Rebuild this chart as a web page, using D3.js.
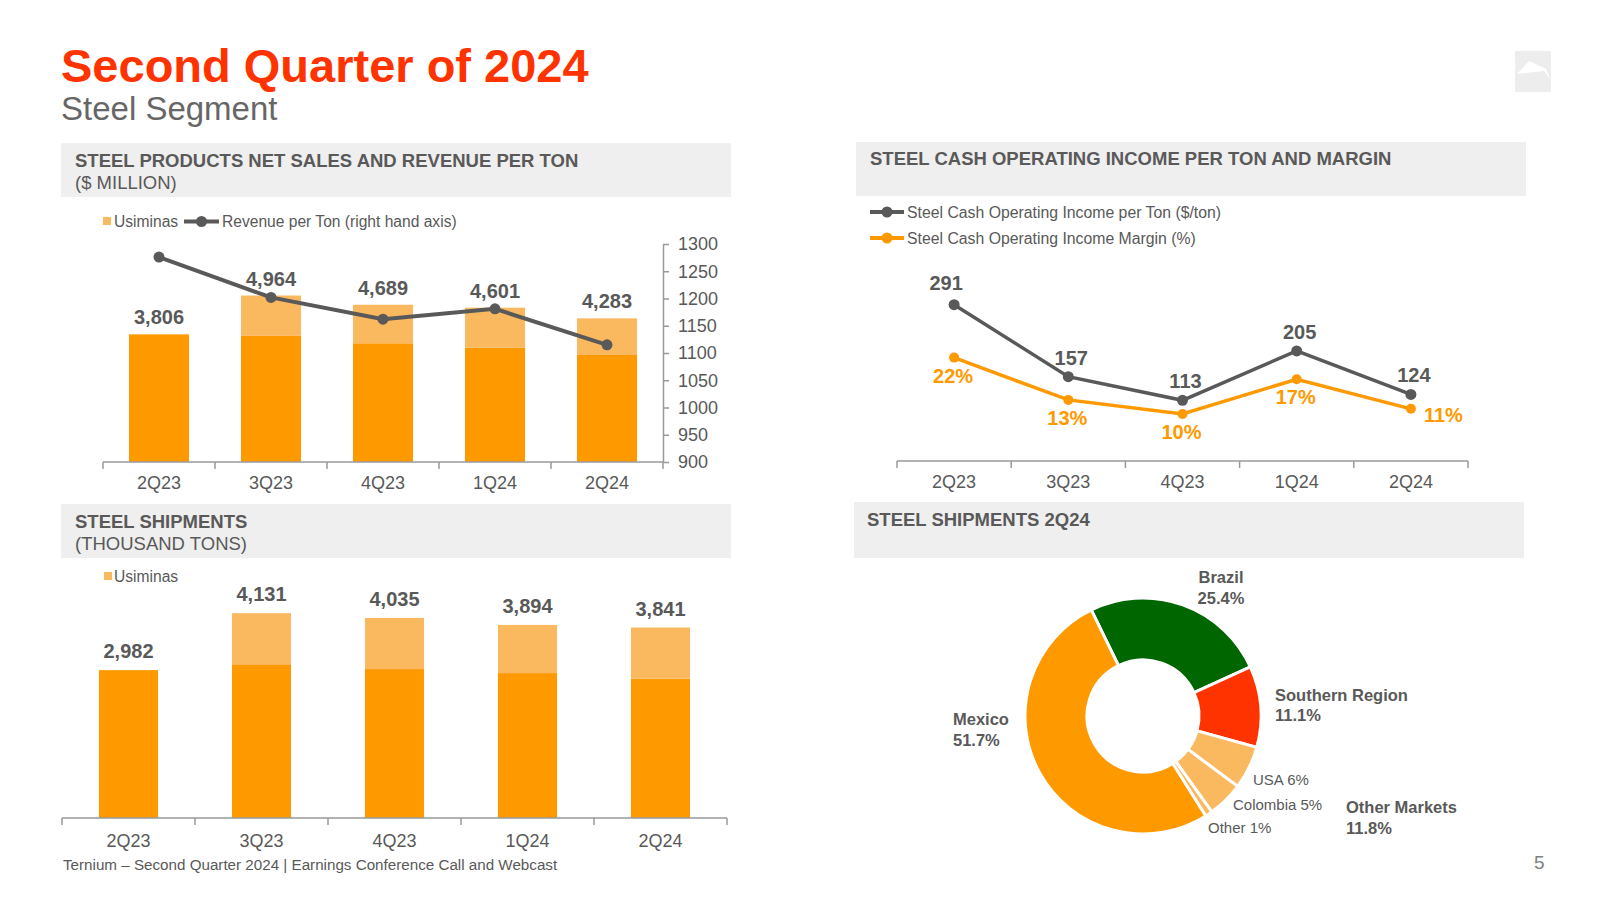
<!DOCTYPE html>
<html><head><meta charset="utf-8">
<script src="https://cdn.jsdelivr.net/npm/d3@7"></script>
<style>
body{margin:0;background:#fff}
svg{display:block}
text{font-family:"Liberation Sans",Arial,sans-serif}
</style>
</head><body>
<svg id="c" width="1600" height="904"></svg>
<script>
// ---------- DATA ----------
const quarters = ["2Q23", "3Q23", "4Q23", "1Q24", "2Q24"];

// Steel products net sales ($ million)
const salesTotal = [3806, 4964, 4689, 4601, 4283];
const salesTernium = [3806, 3760, 3540, 3410, 3190];
const salesUsiminas = [0, 1204, 1149, 1191, 1093];
const revenuePerTon = [1276, 1202, 1162, 1181, 1115];
const rightAxisTicks = [900, 950, 1000, 1050, 1100, 1150, 1200, 1250, 1300];

// Steel cash operating income
const cashIncomePerTon = [291, 157, 113, 205, 124];
const cashIncomeMargin = [22.0, 13.0, 10.0, 17.4, 11.1];

// Steel shipments (thousand tons)
const shipTotal = [2982, 4131, 4035, 3894, 3841];
const shipTernium = [2982, 3100, 3004, 2923, 2808];
const shipUsiminas = [0, 1031, 1031, 971, 1033];

// Steel shipments 2Q24 by region (%)
const regions = ["Brazil", "Southern Region", "USA", "Colombia", "Other", "Mexico"];
const regionShare = [25.4, 11.1, 5.9, 4.9, 1.0, 51.7];

// ---------- STYLE ----------
const DARK = "#FF9900", LIGHT = "#FBB95F", GRAY = "#595959", AXIS = "#9a9a9a";
const HEADER_BG = "#EFEFEF", TITLE = "#FF3300";
const regionColors = ["#006600", "#FF3300", LIGHT, LIGHT, LIGHT, DARK];

const svg = d3.select("#c");

// ---------- Titles ----------
svg.append("text").attr("x", 61).attr("y", 82).attr("fill", TITLE)
  .attr("font-size", 47).attr("font-weight", "bold").text("Second Quarter of 2024");
svg.append("text").attr("x", 61).attr("y", 120).attr("fill", "#666666")
  .attr("font-size", 33).text("Steel Segment");

// logo
svg.append("rect").attr("x", 1515).attr("y", 51).attr("width", 36).attr("height", 41).attr("fill", "#EDEDED");
svg.append("path").attr("d", "M1517,74 L1529,61 L1546,69 L1551,80 L1544,71 Z").attr("fill", "#fff");

// header boxes
function header(x, y, w, h, line1, line2, tx, ty) {
  svg.append("rect").attr("x", x).attr("y", y).attr("width", w).attr("height", h).attr("fill", HEADER_BG);
  svg.append("text").attr("x", tx).attr("y", ty).attr("fill", GRAY).attr("font-size", 18.5)
    .attr("font-weight", "bold").text(line1);
  if (line2) svg.append("text").attr("x", tx).attr("y", ty + 22).attr("fill", GRAY).attr("font-size", 18.5).text(line2);
}
header(61, 143, 670, 54, "STEEL PRODUCTS NET SALES AND REVENUE PER TON", "($ MILLION)", 75, 167);
header(856, 142, 670, 54, "STEEL CASH OPERATING INCOME PER TON AND MARGIN", null, 870, 165);
header(61, 504, 670, 54, "STEEL SHIPMENTS", "(THOUSAND TONS)", 75, 528);
header(854, 502, 670, 56, "STEEL SHIPMENTS 2Q24", null, 867, 526);

// footer
svg.append("text").attr("x", 63).attr("y", 870).attr("fill", GRAY).attr("font-size", 15.2)
  .text("Ternium \u2013 Second Quarter 2024 | Earnings Conference Call and Webcast");
svg.append("text").attr("x", 1534).attr("y", 869).attr("fill", "#808080").attr("font-size", 19).text("5");

// helper: category axis with boundary ticks
function catAxis(scale, y, x0, x1, padding) {
  const g = svg.append("g").attr("transform", `translate(0,${y})`)
    .call(d3.axisBottom(scale).tickSize(0).tickPadding(padding));
  g.select(".domain").remove();
  g.selectAll("text").attr("font-size", 18).attr("fill", GRAY).attr("font-family", '"Liberation Sans",Arial,sans-serif');
  svg.append("line").attr("x1", x0).attr("x2", x1).attr("y1", y).attr("y2", y)
    .attr("stroke", AXIS).attr("stroke-width", 1.5);
  const step = (x1 - x0) / scale.domain().length;
  svg.selectAll(null).data(d3.range(scale.domain().length + 1)).enter().append("line")
    .attr("x1", i => x0 + i * step).attr("x2", i => x0 + i * step)
    .attr("y1", y).attr("y2", y + 7).attr("stroke", AXIS).attr("stroke-width", 1.5);
}

// ---------- Chart 1: net sales + revenue per ton ----------
{
  const x = d3.scaleBand().domain(quarters).range([103, 663]).paddingInner(0.464).paddingOuter(0.232);
  const y = d3.scaleLinear().domain([0, 6500]).range([462, 244]);
  const yr = d3.scaleLinear().domain([900, 1300]).range([462, 244]);
  const bw = x.bandwidth();
  const data = quarters.map((q, i) => ({q, base: salesTernium[i], usi: salesUsiminas[i], total: salesTotal[i], rpt: revenuePerTon[i]}));

  svg.selectAll(null).data(data).enter().append("rect")
    .attr("x", d => x(d.q)).attr("width", bw)
    .attr("y", d => y(d.base)).attr("height", d => y(0) - y(d.base)).attr("fill", DARK);
  svg.selectAll(null).data(data.filter(d => d.usi > 0)).enter().append("rect")
    .attr("x", d => x(d.q)).attr("width", bw)
    .attr("y", d => y(d.base + d.usi)).attr("height", d => y(d.base) - y(d.base + d.usi)).attr("fill", LIGHT);

  catAxis(x, 462, 103, 663, 14);

  const ra = svg.append("g").attr("transform", "translate(663,0)")
    .call(d3.axisRight(yr).tickValues(rightAxisTicks).tickFormat(d3.format("d"))
      .tickSize(6).tickSizeOuter(0).tickPadding(9));
  ra.select(".domain").attr("stroke", AXIS).attr("stroke-width", 1.5);
  ra.selectAll(".tick line").attr("stroke", AXIS).attr("stroke-width", 1.5);
  ra.selectAll("text").attr("font-size", 18).attr("fill", GRAY).attr("font-family", '"Liberation Sans",Arial,sans-serif');

  svg.selectAll(null).data(data).enter().append("text")
    .attr("x", d => x(d.q) + bw / 2).attr("y", d => y(d.total) - 10)
    .attr("text-anchor", "middle").attr("font-size", 20).attr("font-weight", "bold").attr("fill", GRAY)
    .text(d => d3.format(",")(d.total));

  const line = d3.line().x(d => x(d.q) + bw / 2).y(d => yr(d.rpt));
  svg.append("path").datum(data).attr("d", line).attr("fill", "none").attr("stroke", GRAY).attr("stroke-width", 4);
  svg.selectAll(null).data(data).enter().append("circle")
    .attr("cx", d => x(d.q) + bw / 2).attr("cy", d => yr(d.rpt)).attr("r", 5.5).attr("fill", GRAY);

  // legend
  svg.append("rect").attr("x", 103).attr("y", 217).attr("width", 8).attr("height", 8).attr("fill", LIGHT);
  svg.append("text").attr("x", 114).attr("y", 227).attr("font-size", 15.6).attr("fill", GRAY).text("Usiminas");
  svg.append("line").attr("x1", 184).attr("x2", 219).attr("y1", 221.5).attr("y2", 221.5).attr("stroke", GRAY).attr("stroke-width", 4);
  svg.append("circle").attr("cx", 201.5).attr("cy", 221.5).attr("r", 5.5).attr("fill", GRAY);
  svg.append("text").attr("x", 222).attr("y", 227).attr("font-size", 15.6).attr("fill", GRAY).text("Revenue per Ton (right hand axis)");
}

// ---------- Chart 2: cash operating income ----------
{
  const x = d3.scalePoint().domain(quarters).range([897, 1468]).padding(0.5);
  const band = d3.scaleBand().domain(quarters).range([897, 1468]);
  const yg = d3.scaleLinear().domain([0, 350]).range([461, 273]);
  const yp = d3.scaleLinear().domain([0, 40]).range([461, 273]);
  const data = quarters.map((q, i) => ({q, v: cashIncomePerTon[i], m: cashIncomeMargin[i]}));

  catAxis(band, 461, 897, 1468, 14);

  svg.append("path").datum(data).attr("d", d3.line().x(d => x(d.q)).y(d => yp(d.m)))
    .attr("fill", "none").attr("stroke", DARK).attr("stroke-width", 3.5);
  svg.selectAll(null).data(data).enter().append("circle")
    .attr("cx", d => x(d.q)).attr("cy", d => yp(d.m)).attr("r", 5).attr("fill", DARK);
  svg.append("path").datum(data).attr("d", d3.line().x(d => x(d.q)).y(d => yg(d.v)))
    .attr("fill", "none").attr("stroke", GRAY).attr("stroke-width", 3.5);
  svg.selectAll(null).data(data).enter().append("circle")
    .attr("cx", d => x(d.q)).attr("cy", d => yg(d.v)).attr("r", 5.5).attr("fill", GRAY);

  svg.selectAll(null).data(data).enter().append("text")
    .attr("x", (d, i) => x(d.q) + (i === 0 ? -8 : 3)).attr("y", (d, i) => yg(d.v) - (i === 0 ? 15 : 12))
    .attr("text-anchor", "middle").attr("font-size", 20).attr("font-weight", "bold").attr("fill", GRAY)
    .text(d => d.v);
  const last = data.length - 1;
  svg.selectAll(null).data(data).enter().append("text")
    .attr("x", (d, i) => i === last ? x(d.q) + 13 : x(d.q) - 1)
    .attr("y", (d, i) => i === last ? yp(d.m) + 13 : yp(d.m) + 25)
    .attr("text-anchor", (d, i) => i === last ? "start" : "middle")
    .attr("font-size", 20).attr("font-weight", "bold").attr("fill", DARK)
    .text(d => Math.round(d.m) + "%");

  // legend
  [[GRAY, 212, "Steel Cash Operating Income per Ton ($/ton)"], [DARK, 238, "Steel Cash Operating Income Margin (%)"]]
    .forEach(([c, yy, t]) => {
      svg.append("line").attr("x1", 870).attr("x2", 904).attr("y1", yy).attr("y2", yy).attr("stroke", c).attr("stroke-width", 4);
      svg.append("circle").attr("cx", 887).attr("cy", yy).attr("r", 5.5).attr("fill", c);
      svg.append("text").attr("x", 907).attr("y", yy + 5.5).attr("font-size", 15.8).attr("fill", GRAY).text(t);
    });
}

// ---------- Chart 3: shipments ----------
{
  const x = d3.scaleBand().domain(quarters).range([62, 727]).paddingInner(0.556).paddingOuter(0.278);
  const y = d3.scaleLinear().domain([0, 4800]).range([818, 580]);
  const bw = x.bandwidth();
  const data = quarters.map((q, i) => ({q, base: shipTernium[i], usi: shipUsiminas[i], total: shipTotal[i]}));

  svg.selectAll(null).data(data).enter().append("rect")
    .attr("x", d => x(d.q)).attr("width", bw)
    .attr("y", d => y(d.base)).attr("height", d => y(0) - y(d.base)).attr("fill", DARK);
  svg.selectAll(null).data(data.filter(d => d.usi > 0)).enter().append("rect")
    .attr("x", d => x(d.q)).attr("width", bw)
    .attr("y", d => y(d.base + d.usi)).attr("height", d => y(d.base) - y(d.base + d.usi)).attr("fill", LIGHT);

  catAxis(x, 818, 62, 727, 16);

  svg.selectAll(null).data(data).enter().append("text")
    .attr("x", d => x(d.q) + bw / 2).attr("y", d => y(d.total) - 12)
    .attr("text-anchor", "middle").attr("font-size", 20).attr("font-weight", "bold").attr("fill", GRAY)
    .text(d => d3.format(",")(d.total));

  svg.append("rect").attr("x", 104).attr("y", 572).attr("width", 8).attr("height", 8).attr("fill", LIGHT);
  svg.append("text").attr("x", 114).attr("y", 582).attr("font-size", 15.6).attr("fill", GRAY).text("Usiminas");
}

// ---------- Chart 4: donut ----------
{
  const cx = 1143, cy = 716;
  const pie = d3.pie().sort(null).startAngle(-26 * Math.PI / 180).endAngle(-26 * Math.PI / 180 + 2 * Math.PI);
  const arc = d3.arc().innerRadius(56).outerRadius(118);
  const arcs = pie(regionShare);
  svg.append("g").attr("transform", `translate(${cx},${cy})`)
    .selectAll("path").data(arcs).enter().append("path")
    .attr("d", arc).attr("fill", (d, i) => regionColors[i]).attr("stroke", "#fff").attr("stroke-width", 3);

  const bold = (x, y, t, anchor) => svg.append("text").attr("x", x).attr("y", y).attr("text-anchor", anchor || "start")
    .attr("font-size", 16.5).attr("font-weight", "bold").attr("fill", GRAY).text(t);
  const norm = (x, y, t) => svg.append("text").attr("x", x).attr("y", y)
    .attr("font-size", 15).attr("fill", GRAY).text(t);
  bold(1221, 583, regions[0], "middle"); bold(1221, 604, regionShare[0] + "%", "middle");
  bold(1275, 701, regions[1]); bold(1275, 721, regionShare[1] + "%");
  bold(953, 725, regions[5]); bold(953, 746, regionShare[5] + "%");
  norm(1253, 785, "USA 6%");
  norm(1233, 810, "Colombia 5%");
  norm(1208, 833, "Other 1%");
  bold(1346, 813, "Other Markets"); bold(1346, 834, "11.8%");
}
</script>
</body></html>
